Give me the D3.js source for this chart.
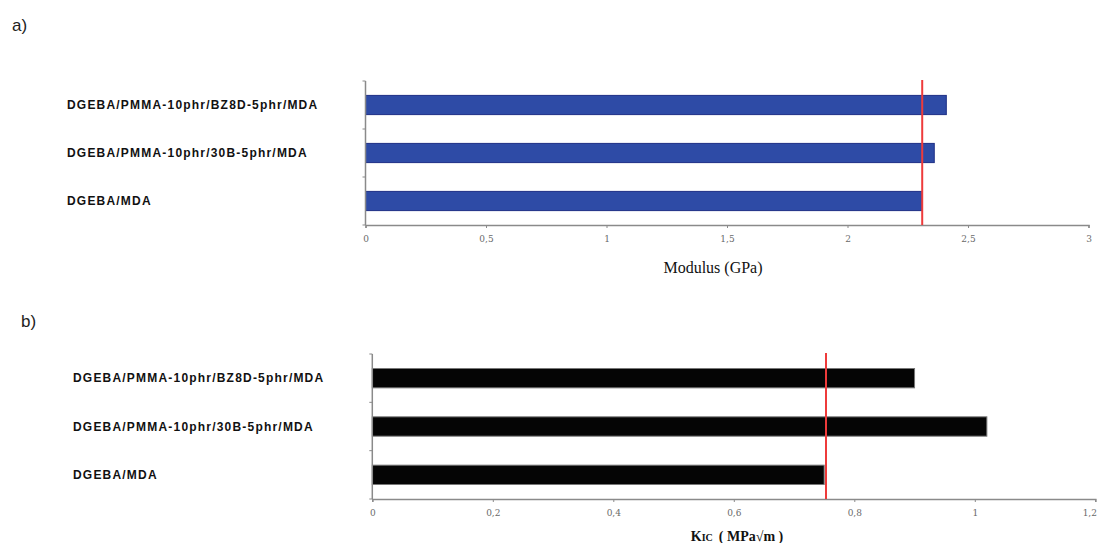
<!DOCTYPE html>
<html>
<head>
<meta charset="utf-8">
<script src="https://cdn.jsdelivr.net/npm/d3@7"></script>
<style>
  body { margin: 0; background: #fff; }
  svg { display: block; }
</style>
</head>
<body>
<div id="chart"></div>
<script>
// data
var categories = ["DGEBA/PMMA-10phr/BZ8D-5phr/MDA", "DGEBA/PMMA-10phr/30B-5phr/MDA", "DGEBA/MDA"];
var modulus = [2.41, 2.36, 2.31];
var modulusRef = 2.31;
var modulusTicks = [0, 0.5, 1, 1.5, 2, 2.5, 3];
var kic = [0.90, 1.02, 0.75];
var kicRef = 0.753;
var kicTicks = [0, 0.2, 0.4, 0.6, 0.8, 1, 1.2];

var svg = d3.select("#chart")
            .append("svg")
            .attr("width", 1097)
            .attr("height", 543);

var fmt = function(d) { return String(d).replace(".", ","); };

function drawPanel(opt)
{
	var g = svg.append("g");

	var x = d3.scaleLinear()
	          .domain([0, opt.max])
	          .range([opt.left, opt.right]);
	var y = d3.scaleBand()
	          .domain(categories)
	          .range([opt.top, opt.bottom])
	          .paddingInner(0.6)
	          .paddingOuter(0.3);

	// bars
	g.selectAll("rect.bar")
	 .data(opt.values)
	 .enter()
	 .append("rect")
	 .attr("class", "bar")
	 .attr("x", x(0))
	 .attr("y", function(d, i) { return y(categories[i]); })
	 .attr("width", function(d) { return x(d) - x(0); })
	 .attr("height", y.bandwidth())
	 .attr("fill", opt.fill)
	 .attr("stroke", opt.stroke)
	 .attr("stroke-width", 1);

	// x axis
	var xAxis = g.append("g")
	             .attr("transform", "translate(0," + opt.bottom + ")")
	             .call(d3.axisBottom(x).tickValues(opt.ticks).tickFormat(fmt).tickSize(3).tickPadding(8));
	xAxis.select(".domain").attr("stroke", "#8a8a8a").attr("stroke-width", 1.5);
	xAxis.selectAll(".tick line").attr("stroke", "#8a8a8a");
	xAxis.selectAll("text")
	     .attr("fill", "#6a6a6a")
	     .style("font-family", "DejaVu Serif, serif")
	     .style("font-size", "9px");
	// keep the last label inside the page
	xAxis.selectAll(".tick:last-of-type text")
	     .attr("dx", function() { return x(opt.max) > 1090 ? -6 : 0; });

	// y axis: ticks at band boundaries
	var step = (opt.bottom - opt.top) / categories.length;
	g.append("line")
	 .attr("x1", x(0)).attr("x2", x(0))
	 .attr("y1", opt.top).attr("y2", opt.bottom)
	 .attr("stroke", "#8a8a8a").attr("stroke-width", 1.5);
	g.selectAll("line.ytick")
	 .data(d3.range(categories.length + 1))
	 .enter()
	 .append("line")
	 .attr("class", "ytick")
	 .attr("x1", x(0) - 3).attr("x2", x(0))
	 .attr("y1", function(i) { return opt.top + i * step; })
	 .attr("y2", function(i) { return opt.top + i * step; })
	 .attr("stroke", "#8a8a8a");

	// category labels
	g.selectAll("text.cat")
	 .data(categories)
	 .enter()
	 .append("text")
	 .attr("class", "cat")
	 .attr("x", opt.labelX)
	 .attr("y", function(d) { return y(d) + y.bandwidth() / 2; })
	 .attr("dy", "0.35em")
	 .style("font-family", "Liberation Sans, Arial, sans-serif")
	 .style("font-weight", "bold")
	 .style("font-size", "12px")
	 .style("letter-spacing", "1.2px")
	 .attr("fill", "#111")
	 .text(function(d) { return d; });

	// red reference line
	g.append("line")
	 .attr("x1", x(opt.ref)).attr("x2", x(opt.ref))
	 .attr("y1", opt.top - 1).attr("y2", opt.bottom)
	 .attr("stroke", "#ee3b3b")
	 .attr("stroke-width", 2);

	// panel letter
	svg.append("text")
	   .attr("x", opt.letterX)
	   .attr("y", opt.letterY)
	   .style("font-family", "Liberation Sans, Arial, sans-serif")
	   .style("font-size", "17px")
	   .attr("fill", "#222")
	   .text(opt.letter);

	return x;
}

drawPanel({
	values: modulus, ref: modulusRef, max: 3, ticks: modulusTicks,
	left: 365.5, right: 1088.5, top: 81, bottom: 225,
	fill: "#2e4ba6", stroke: "#1d2f85",
	labelX: 67, letter: "a)", letterX: 12, letterY: 31
});

drawPanel({
	values: kic, ref: kicRef, max: 1.2, ticks: kicTicks,
	left: 372.3, right: 1095.3, top: 354, bottom: 499,
	fill: "#050505", stroke: "#777",
	labelX: 73, letter: "b)", letterX: 21, letterY: 327
});

// axis titles
svg.append("text")
   .attr("x", 713).attr("y", 273)
   .attr("text-anchor", "middle")
   .style("font-family", "Liberation Serif, Times New Roman, serif")
   .style("font-size", "16px")
   .attr("fill", "#111")
   .text("Modulus (GPa)");

var kt = svg.append("text")
   .attr("x", 737).attr("y", 541)
   .attr("text-anchor", "middle")
   .style("font-family", "Liberation Serif, Times New Roman, serif")
   .style("font-size", "14px")
   .style("font-weight", "bold")
   .attr("fill", "#111");
kt.append("tspan").text("K");
kt.append("tspan").style("font-size", "10px").text("IC");
kt.append("tspan").attr("dx", 6).text("( MPa\u221Am )");
</script>
</body>
</html>
